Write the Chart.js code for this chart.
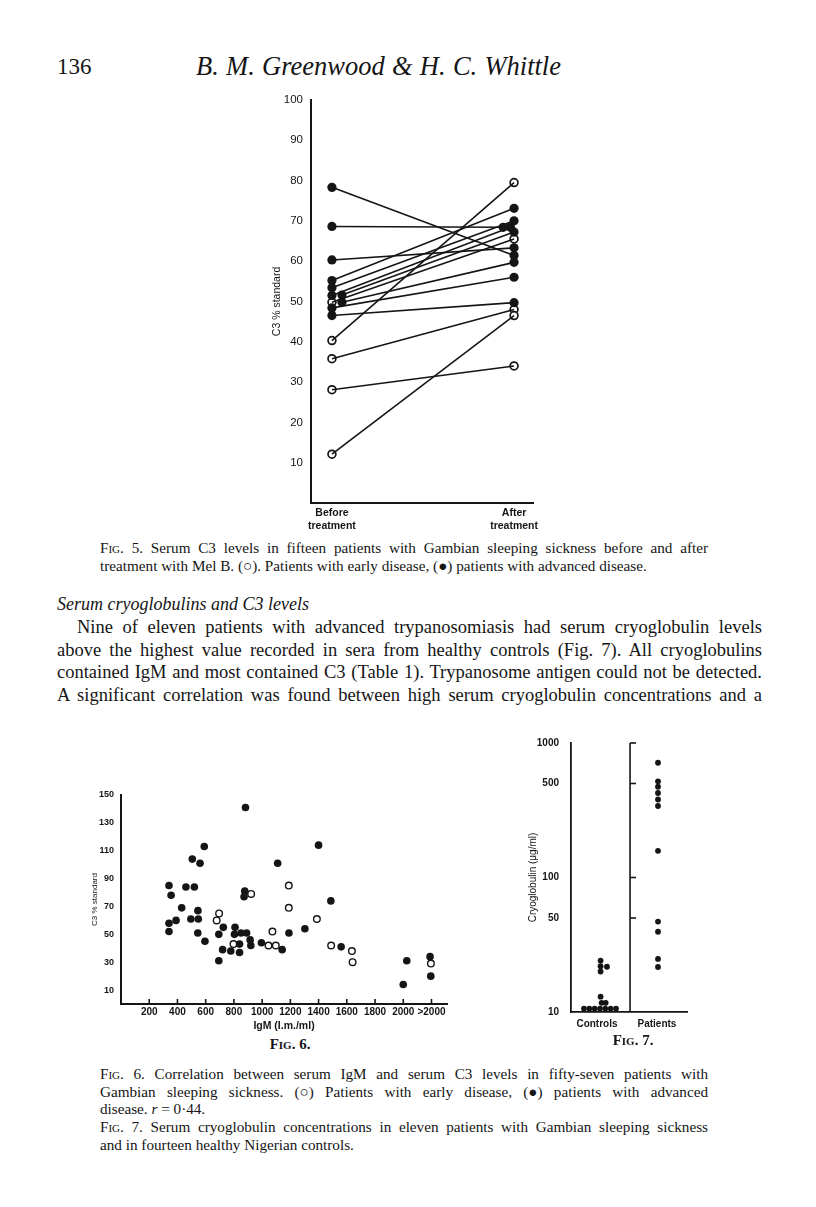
<!DOCTYPE html>
<html>
<head>
<meta charset="utf-8">
<title>Greenwood &amp; Whittle, p. 136</title>
<script src="https://cdn.jsdelivr.net/npm/chart.js@4.4.1/dist/chart.umd.min.js"></script>
<style>
  body { margin: 0; background: #fff; }
  #page { position: relative; width: 816px; height: 1207px; overflow: hidden; background: #fff; color: #151515; font-family: "Liberation Serif", "Times New Roman", serif; }
  .t { position: absolute; white-space: nowrap; line-height: 1; }
  .sc { font-variant: small-caps; }
  .mid { transform: translateX(-50%); }
  canvas { position: absolute; }
</style>
</head>
<body>
<div id="page">
  <div class="t" style="left:57px;top:55px;font-size:23px">136</div>
  <div class="t j" data-w="365" style="left:196px;top:53px;font-size:26.5px;font-style:italic">B. M. Greenwood &amp; H. C. Whittle</div>

  <canvas id="fig5" width="310" height="450" style="left:240px;top:85px"></canvas>

  <div class="t j" data-w="608" style="left:100px;top:540px;font-size:15.2px"><span class="sc">Fig</span>. 5. Serum C3 levels in fifteen patients with Gambian sleeping sickness before and after</div>
  <div class="t" style="left:100px;top:558px;font-size:15.2px">treatment with Mel B. (○). Patients with early disease, (●) patients with advanced disease.</div>

  <div class="t" style="left:57px;top:595px;font-size:18px;font-style:italic">Serum cryoglobulins and C3 levels</div>
  <div class="t j" data-w="685" style="left:77px;top:618px;font-size:18.5px">Nine of eleven patients with advanced trypanosomiasis had serum cryoglobulin levels</div>
  <div class="t j" data-w="705" style="left:57px;top:641px;font-size:18.5px">above the highest value recorded in sera from healthy controls (Fig. 7). All cryoglobulins</div>
  <div class="t j" data-w="705" style="left:57px;top:663px;font-size:18.5px">contained IgM and most contained C3 (Table 1). Trypanosome antigen could not be detected.</div>
  <div class="t j" data-w="705" style="left:57px;top:686px;font-size:18.5px">A significant correlation was found between high serum cryoglobulin concentrations and a</div>

  <canvas id="fig6" width="380" height="255" style="left:85px;top:780px"></canvas>
  <canvas id="fig7" width="180" height="310" style="left:515px;top:725px"></canvas>

  <div class="t mid" style="left:290px;top:1037px;font-size:15px;font-weight:bold"><span class="sc">Fig</span>. 6.</div>
  <div class="t mid" style="left:633px;top:1033px;font-size:15px;font-weight:bold"><span class="sc">Fig</span>. 7.</div>

  <div class="t j" data-w="608" style="left:100px;top:1066px;font-size:15.2px"><span class="sc">Fig</span>. 6. Correlation between serum IgM and serum C3 levels in fifty-seven patients with</div>
  <div class="t j" data-w="608" style="left:100px;top:1084px;font-size:15.2px">Gambian sleeping sickness. (○) Patients with early disease, (●) patients with advanced</div>
  <div class="t" style="left:100px;top:1101px;font-size:15.2px">disease. <i>r</i> = 0·44.</div>
  <div class="t j" data-w="608" style="left:100px;top:1119px;font-size:15.2px"><span class="sc">Fig</span>. 7. Serum cryoglobulin concentrations in eleven patients with Gambian sleeping sickness</div>
  <div class="t" style="left:100px;top:1137px;font-size:15.2px">and in fourteen healthy Nigerian controls.</div>
</div>

<script>
// stretch the justified lines to their measure
document.querySelectorAll(".j").forEach(function (el) {
  const target = parseFloat(el.dataset.w);
  const gaps = (el.textContent.match(/ /g) || []).length;
  const w = el.getBoundingClientRect().width;
  if (gaps) el.style.wordSpacing = ((target - w) / gaps) + "px";
});

const INK = "#151515";

// Fig. 5 : C3 % standard before / after Mel B, one entry per patient
const fig5Before      = [78.3, 68.6, 60.3, 55.2, 53.4, 51.5, 51.6, 49.8, 48.4, 46.5, 49.8, 40.3, 35.8, 28.1, 12.1];
const fig5After       = [61.4, 68.4, 63.3, 73.1, 70.0, 68.4, 67.2, 59.7, 56.0, 49.7, 65.5, 79.5, 48.0, 34.0, 46.5];
const fig5Early       = [0, 0, 0, 0, 0, 0, 0, 0, 0, 0, 1, 1, 1, 1, 1];
const fig5BeforeShift = [0, 0, 0, 0, 0, 0, 0.055, 0.055, 0, 0, 0, 0, 0, 0, 0];
const fig5AfterShift  = [0, -0.06, 0, 0, 0, -0.02, 0, 0, 0, 0, 0, 0, 0, 0, 0];
const fig5YTicks      = [10, 20, 30, 40, 50, 60, 70, 80, 90, 100];
const fig5XLabels     = [["Before", "treatment"], ["After", "treatment"]];

// Fig. 6 : IgM (I.m./ml) against C3 % standard
const fig6AdvIgM = [340, 355, 340, 340, 390, 430, 460, 520, 505, 560, 590, 495, 545, 548, 544, 595, 693, 693, 725, 720, 778, 808, 804, 850, 890, 840, 840, 915, 920, 882, 877, 872, 995, 1110, 1142, 1190, 1400, 1487, 1303, 1560, 2000, 2025, 2190, 2195];
const fig6AdvC3  = [85, 78, 58, 52, 60, 69, 84, 84, 104, 101, 113, 61, 67, 61, 51, 45, 31, 50, 55, 39, 38, 55, 50, 51, 51, 43, 37, 46, 42, 141, 81, 77, 44, 101, 39, 51, 114, 74, 54, 41, 14, 31, 34, 20];
const fig6EarlyIgM = [695, 678, 797, 922, 1073, 1045, 1097, 1189, 1189, 1388, 1489, 1636, 1641, 2196];
const fig6EarlyC3  = [65, 60, 43, 79, 52, 42, 42, 85, 69, 61, 42, 38, 30, 29];
const fig6XTicks  = [200, 400, 600, 800, 1000, 1200, 1400, 1600, 1800, 2000, 2200];
const fig6XLabels = ["200", "400", "600", "800", "1000", "1200", "1400", "1600", "1800", "2000", ">2000"];
const fig6YTicks  = [10, 20, 30, 40, 50, 60, 70, 80, 90, 100, 110, 120, 130, 140, 150];
const fig6YLabels = ["10", "", "30", "", "50", "", "70", "", "90", "", "110", "", "130", "", "150"];

// Fig. 7 : cryoglobulin (ug/ml), log scale
const fig7ControlsX = [0.255, 0.255, 0.31, 0.255, 0.255, 0.264, 0.299, 0.112, 0.158, 0.204, 0.25, 0.296, 0.342, 0.388];
const fig7ControlsY = [24.1, 21.9, 21.7, 20.0, 13.0, 11.7, 11.7, 10.6, 10.6, 10.6, 10.6, 10.6, 10.6, 10.6];
const fig7PatientsY = [713, 519, 473, 425, 380, 340, 158, 47, 39.5, 24.8, 21.6];
const fig7PatientsAt = 0.75;
const fig7Divider = 0.509;
const fig7YTicks  = [10, 50, 100, 500, 1000];
const fig7XTicks  = [0.224, 0.741];
const fig7XLabels = ["Controls", "Patients"];

Chart.defaults.font.family = '"Liberation Sans", Arial, sans-serif';
Chart.defaults.color = INK;
Chart.defaults.animation = false;
Chart.defaults.plugins.legend.display = false;
Chart.defaults.plugins.tooltip.enabled = false;

// short tick marks drawn by hand (the printed axes have them inside, or on the divider)
const tickMarks = {
  id: "tickMarks",
  afterDraw(chart, args, opts) {
    const ctx = chart.ctx;
    const area = chart.chartArea;
    ctx.save();
    ctx.strokeStyle = INK;
    ctx.lineWidth = opts.width || 1.6;
    if (opts.divider !== undefined) {
      const dx = chart.scales.x.getPixelForValue(opts.divider);
      ctx.beginPath();
      ctx.moveTo(dx, area.top);
      ctx.lineTo(dx, area.bottom);
      ctx.stroke();
    }
    (opts.marks || []).forEach(function (m) {
      const s = chart.scales[m.scale];
      m.values.forEach(function (v) {
        ctx.beginPath();
        if (m.scale === "y") {
          const y = s.getPixelForValue(v);
          const x = m.at === undefined ? area.left : chart.scales.x.getPixelForValue(m.at);
          ctx.moveTo(x, y);
          ctx.lineTo(x + m.dir * m.len, y);
        } else {
          const x = s.getPixelForValue(v);
          ctx.moveTo(x, area.bottom);
          ctx.lineTo(x, area.bottom - m.len);
        }
        ctx.stroke();
      });
    });
    ctx.restore();
  }
};

function setTicks(list) {
  return function (s) { s.ticks = list.map(v => ({ value: v })); };
}

// ---- Fig. 5
const fig5Lines = fig5Before.map((b, i) => ({
  data: [{ x: fig5BeforeShift[i], y: b }, { x: 1 + fig5AfterShift[i], y: fig5After[i] }],
  showLine: true, borderColor: INK, borderWidth: 1.6, pointRadius: 0
}));
function fig5Points(early) {
  const pts = [];
  fig5Before.forEach((b, i) => {
    if (fig5Early[i] !== early) return;
    pts.push({ x: fig5BeforeShift[i], y: b }, { x: 1 + fig5AfterShift[i], y: fig5After[i] });
  });
  return pts;
}

new Chart(document.getElementById("fig5"), {
  type: "scatter",
  data: {
    datasets: fig5Lines.concat([
      { data: fig5Points(0), pointRadius: 4.6, backgroundColor: INK, borderWidth: 0 },
      { data: fig5Points(1), pointRadius: 3.9, backgroundColor: "#fff", borderColor: INK, borderWidth: 1.7 }
    ])
  },
  options: {
    responsive: false,
    devicePixelRatio: 1,
    layout: { padding: { left: 0, top: 14, right: 17, bottom: 0 } },
    scales: {
      x: {
        type: "linear", min: -0.115, max: 1.104,
        grid: { display: false, drawTicks: false },
        border: { color: INK, width: 2 },
        afterBuildTicks: setTicks([0, 1]),
        afterFit: s => { s.height = 32; },
        ticks: { padding: 4, maxRotation: 0, autoSkip: false, font: { size: 10.5, weight: "bold", lineHeight: 1.2 },
                 callback: (v, i) => fig5XLabels[i] }
      },
      y: {
        min: 0, max: 100,
        grid: { display: false, drawTicks: false },
        border: { color: INK, width: 2 },
        afterBuildTicks: setTicks(fig5YTicks),
        afterFit: s => { s.width = 71; },
        ticks: { padding: 8, font: { size: 11.5 } },
        title: { display: true, text: "C3 % standard", font: { size: 10.5 }, padding: { top: 31, bottom: 0 } }
      }
    },
    plugins: { tickMarks: { marks: [{ scale: "y", values: fig5YTicks, len: 8, dir: 1 }] } }
  },
  plugins: [tickMarks]
});

// ---- Fig. 6
new Chart(document.getElementById("fig6"), {
  type: "scatter",
  data: {
    datasets: [
      { data: fig6AdvIgM.map((x, i) => ({ x: x, y: fig6AdvC3[i] })), pointRadius: 3.8, backgroundColor: INK, borderWidth: 0 },
      { data: fig6EarlyIgM.map((x, i) => ({ x: x, y: fig6EarlyC3[i] })), pointRadius: 3.3, backgroundColor: "#fff", borderColor: INK, borderWidth: 1.4 }
    ]
  },
  options: {
    responsive: false,
    devicePixelRatio: 1,
    layout: { padding: { left: 0, top: 15, right: 18, bottom: 0 } },
    scales: {
      x: {
        type: "linear", min: 0, max: 2310,
        grid: { display: false, drawTicks: false },
        border: { color: INK, width: 2 },
        afterBuildTicks: setTicks(fig6XTicks),
        afterFit: s => { s.height = 31; },
        ticks: { padding: 2, maxRotation: 0, autoSkip: false, font: { size: 10, weight: "bold" },
                 callback: (v, i) => fig6XLabels[i] },
        title: { display: true, text: "IgM (I.m./ml)", font: { size: 10.5, weight: "bold" }, padding: { top: 0, bottom: 3 } }
      },
      y: {
        min: 0, max: 150,
        grid: { display: false, drawTicks: false },
        border: { color: INK, width: 2 },
        afterBuildTicks: setTicks(fig6YTicks),
        afterFit: s => { s.width = 36; },
        ticks: { padding: 7, autoSkip: false, font: { size: 9, weight: "bold" }, callback: (v, i) => fig6YLabels[i] },
        title: { display: true, text: "C3 % standard", font: { size: 8 }, padding: { top: 5, bottom: 0 } }
      }
    },
    plugins: { tickMarks: { marks: [
      { scale: "y", values: fig6YTicks, len: 7, dir: 1 },
      { scale: "x", values: fig6XTicks, len: 5 }
    ] } }
  },
  plugins: [tickMarks]
});

// ---- Fig. 7
new Chart(document.getElementById("fig7"), {
  type: "scatter",
  data: {
    datasets: [
      { data: fig7ControlsX.map((x, i) => ({ x: x, y: fig7ControlsY[i] })), pointRadius: 2.9, backgroundColor: INK, borderWidth: 0 },
      { data: fig7PatientsY.map(y => ({ x: fig7PatientsAt, y: y })), pointRadius: 2.9, backgroundColor: INK, borderWidth: 0 }
    ]
  },
  options: {
    responsive: false,
    devicePixelRatio: 1,
    layout: { padding: { left: 0, top: 6, right: 8, bottom: 0 } },
    scales: {
      x: {
        type: "linear", min: 0, max: 1,
        grid: { display: false, drawTicks: false },
        border: { color: INK, width: 1.8 },
        afterBuildTicks: setTicks(fig7XTicks),
        afterFit: s => { s.height = 23; },
        ticks: { padding: 6, maxRotation: 0, autoSkip: false, font: { size: 10, weight: "bold" },
                 callback: (v, i) => fig7XLabels[i] }
      },
      y: {
        type: "logarithmic", min: 10, max: 1000,
        grid: { display: false, drawTicks: false },
        border: { color: INK, width: 1.8 },
        afterBuildTicks: setTicks(fig7YTicks),
        afterFit: s => { s.width = 56; },
        ticks: { padding: 12, autoSkip: false, font: { size: 10, weight: "bold" }, callback: v => String(v) },
        title: { display: true, text: "Cryoglobulin (μg/ml)", font: { size: 10 }, padding: { top: 12, bottom: 0 } }
      }
    },
    plugins: { tickMarks: {
      divider: fig7Divider,
      marks: [
        { scale: "y", values: [50, 100, 500], len: 8, dir: -1 },
        { scale: "y", values: [1000], len: 8, dir: 1 },
        { scale: "y", values: [50, 100, 500, 1000], len: 6, dir: 1, at: fig7Divider }
      ]
    } }
  },
  plugins: [tickMarks]
});
</script>
</body>
</html>
